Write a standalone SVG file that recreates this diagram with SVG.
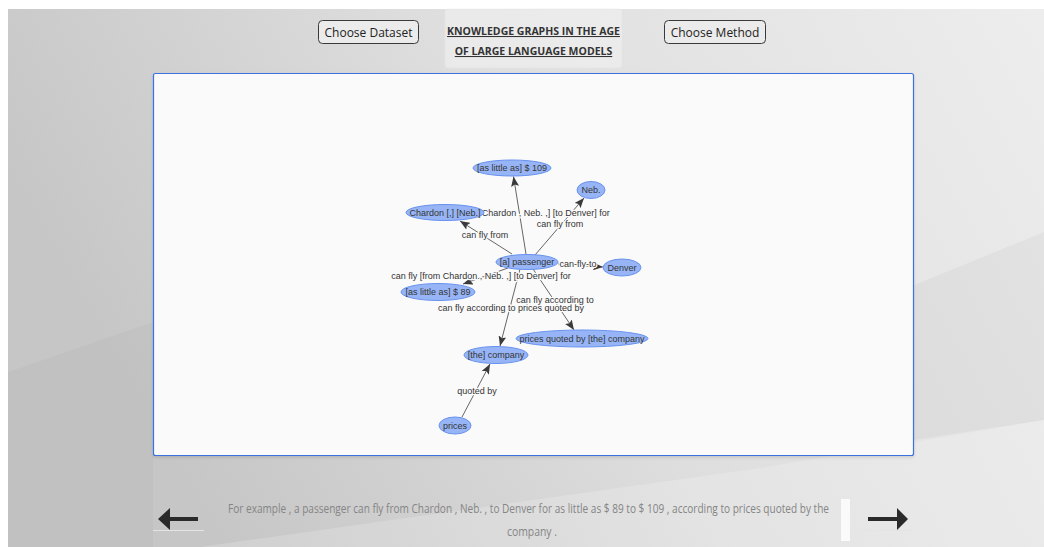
<svg xmlns="http://www.w3.org/2000/svg" width="1044" height="547" viewBox="0 0 1044 547">
  <defs>
    <linearGradient id="bg" x1="0" y1="0.3" x2="1" y2="0">
      <stop offset="0" stop-color="#c6c6c6"/>
      <stop offset="0.45" stop-color="#dedede"/>
      <stop offset="1" stop-color="#ededed"/>
    </linearGradient>
    <filter id="shadow" x="-5%" y="-5%" width="110%" height="115%">
      <feDropShadow dx="0" dy="1.5" stdDeviation="1.5" flood-color="#000" flood-opacity="0.12"/>
    </filter>
    <marker id="arrow" viewBox="0 0 10 8" refX="10" refY="4" markerWidth="10" markerHeight="8" markerUnits="userSpaceOnUse" orient="auto">
      <path d="M0,0 L10,4 L0,8 L2,4 Z" fill="#3a3a3a"/>
    </marker>
    <style>
      .btn rect { fill: #ebebeb; stroke: #3a3a3a; stroke-width: 1; }
      .btn text { font-family: "Open Sans", "Noto Sans", sans-serif; font-size: 12px; fill: #222; text-anchor: middle; }
      .title { font-family: "Open Sans", "Noto Sans", sans-serif; font-size: 10.5px; font-weight: 700; fill: #333; text-anchor: middle; text-decoration: underline; }
      .edge { stroke: #555; stroke-width: 0.9; fill: none; marker-end: url(#arrow); }
      .elabel { font-family: "Liberation Sans", Arial, sans-serif; font-size: 9px; fill: #343434; text-anchor: middle; stroke: #fafafa; stroke-width: 2.5px; paint-order: stroke; stroke-linejoin: round; }
      .node ellipse { fill: #97b5f6; stroke: #6892ee; stroke-width: 1; }
      .node text { font-family: "Liberation Sans", Arial, sans-serif; font-size: 9px; fill: #343434; text-anchor: middle; }
      .caption { font-family: "Open Sans", "Noto Sans", sans-serif; font-weight: 400; font-size: 12px; fill: #858585; text-anchor: middle; }
      .nav { fill: #2a2a2a; }
    </style>
  </defs>

  <!-- page background -->
  <rect x="0" y="0" width="1044" height="547" fill="#ffffff"/>
  <rect x="8" y="9" width="1036" height="538" fill="url(#bg)"/>
  <!-- soft diagonal facets -->
  <polygon points="8,372 153,322 153,547 8,547" fill="#000" opacity="0.025"/>
  <polygon points="200,547 760,468 1044,420 1044,547" fill="#fff" opacity="0.18"/>
  <polygon points="914,285 1044,232 1044,420 914,440" fill="#000" opacity="0.03"/>

  <!-- header -->
  <g id="btn-dataset" class="btn">
    <rect x="318.5" y="20.5" width="100" height="23" rx="4"/>
    <text x="368.5" y="36.5">Choose Dataset</text>
  </g>
  <g id="title">
    <rect x="445" y="9" width="177" height="59" rx="3" fill="#f2f2f2" opacity="0.6" stroke="#e8e8e8"/>
    <text class="title" x="533.5" y="35">KNOWLEDGE GRAPHS IN THE AGE</text>
    <text class="title" x="533.5" y="55">OF LARGE LANGUAGE MODELS</text>
  </g>
  <g id="btn-method" class="btn">
    <rect x="664.5" y="20.5" width="101" height="23" rx="4"/>
    <text x="715" y="36.5">Choose Method</text>
  </g>

  <!-- graph panel -->
  <rect id="panel" x="153.5" y="73.5" width="760" height="382" rx="2" fill="#fafafa" stroke="#3a72e0" stroke-width="1.2" filter="url(#shadow)"/>

  <g id="connectors">
    <line class="edge" x1="526" y1="254" x2="513.5" y2="176.5"/>
    <line class="edge" x1="535" y1="255" x2="584" y2="198"/>
    <line class="edge" x1="512" y1="254" x2="460" y2="221"/>
    <line class="edge" x1="558" y1="264" x2="603" y2="267"/>
    <line class="edge" x1="508" y1="268" x2="463" y2="284"/>
    <line class="edge" x1="520" y1="269" x2="500" y2="346"/>
    <line class="edge" x1="533" y1="269" x2="574" y2="330"/>
    <line class="edge" x1="462" y1="417" x2="490" y2="364"/>

    <text class="elabel" x="520" y="216">can fly [from Chardon , Neb. ,] [to Denver] for</text>
    <text class="elabel" x="560" y="227">can fly from</text>
    <text class="elabel" x="485" y="238">can fly from</text>
    <text class="elabel" x="578" y="267">can-fly-to</text>
    <text class="elabel" x="481" y="279">can fly [from Chardon , Neb. ,] [to Denver] for</text>
    <text class="elabel" x="511" y="311">can fly according to prices quoted by</text>
    <text class="elabel" x="555" y="303">can fly according to</text>
    <text class="elabel" x="477" y="394">quoted by</text>
  </g>

  <g id="n-109" class="node">
    <ellipse cx="512" cy="168" rx="39" ry="8"/>
    <text x="512" y="171">[as little as] $ 109</text>
  </g>
  <g id="n-neb" class="node">
    <ellipse cx="591" cy="190" rx="14" ry="8.5"/>
    <text x="591" y="193">Neb.</text>
  </g>
  <g id="n-chardon" class="node">
    <ellipse cx="445" cy="212.5" rx="39" ry="8"/>
    <text x="445" y="215.5">Chardon [,] [Neb.]</text>
  </g>
  <g id="n-passenger" class="node">
    <ellipse cx="527" cy="262" rx="31" ry="7.5"/>
    <text x="527" y="265">[a] passenger</text>
  </g>
  <g id="n-denver" class="node">
    <ellipse cx="622" cy="267.5" rx="19" ry="8.5"/>
    <text x="622" y="270.5">Denver</text>
  </g>
  <g id="n-89" class="node">
    <ellipse cx="438" cy="292" rx="37" ry="8.5"/>
    <text x="438" y="295">[as little as] $ 89</text>
  </g>
  <g id="n-prices-quoted" class="node">
    <ellipse cx="582" cy="338.5" rx="66" ry="8.5"/>
    <text x="582" y="341.5">prices quoted by [the] company</text>
  </g>
  <g id="n-company" class="node">
    <ellipse cx="496" cy="355" rx="32" ry="8.5"/>
    <text x="496" y="358">[the] company</text>
  </g>
  <g id="n-prices" class="node">
    <ellipse cx="455" cy="425.5" rx="16" ry="8.5"/>
    <text x="455" y="428.5">prices</text>
  </g>

  <!-- footer navigation and sentence -->
  <g id="nav-prev">
    <path class="nav" d="M158,519 L170,508 L170,517 L198,517 L198,521 L170,521 L170,530 Z"/>
    <line x1="153" y1="530.5" x2="204" y2="530.5" stroke="#e4e4e4" stroke-width="1"/>
  </g>
  <g id="caption">
    <text class="caption" x="528.5" y="513" textLength="601" lengthAdjust="spacingAndGlyphs">For example , a passenger can fly from Chardon , Neb. , to Denver for as little as $ 89 to $ 109 , according to prices quoted by the</text>
    <text class="caption" x="532" y="536" textLength="50" lengthAdjust="spacingAndGlyphs">company .</text>
  </g>
  <rect x="841" y="499" width="9" height="42" fill="#fafafa"/>
  <g id="nav-next">
    <path class="nav" d="M908,519 L897,508 L897,517 L868,517 L868,521 L897,521 L897,530 Z"/>
    <line x1="862" y1="530.5" x2="913" y2="530.5" stroke="#e4e4e4" stroke-width="1"/>
  </g>
</svg>
